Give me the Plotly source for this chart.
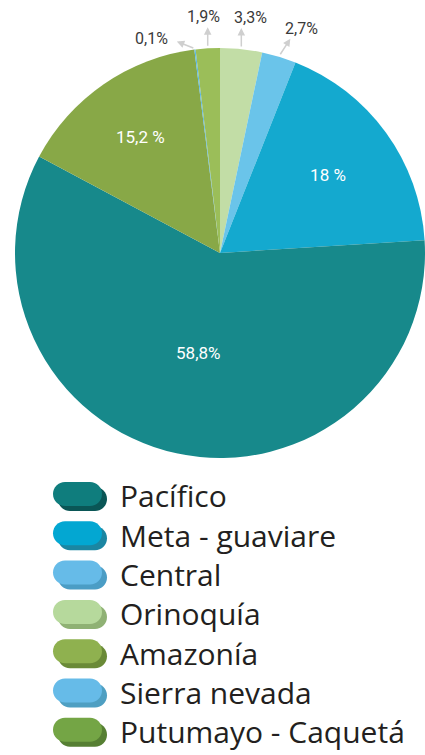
import math
import plotly.graph_objects as go

# orden de las porciones en el pastel (sentido horario desde las 12)
pie_labels = ["Orinoquía", "Central", "Meta - guaviare", "Pacífico",
              "Amazonía", "Sierra nevada", "Putumayo - Caquetá"]
pie_values = [3.3, 2.7, 18.0, 58.8, 15.2, 0.1, 1.9]
pie_text = ["3,3%", "2,7%", "18 %", "58,8%", "15,2 %", "0,1%", "1,9%"]
pie_colors = ["#c2dda6", "#6ac4ea", "#14a9cf", "#17898b",
              "#88a847", "#5ab8e6", "#9bbe59"]

# orden de la leyenda
legend_labels = ["Pacífico", "Meta - guaviare", "Central", "Orinoquía",
                 "Amazonía", "Sierra nevada", "Putumayo - Caquetá"]
legend_colors = ["#0f7d7d", "#03a7d2", "#66bbe8", "#b6d99c",
                 "#8fb14f", "#66bbe8", "#74a545"]
legend_shadow = ["#0a5656", "#1b86a2", "#4b9dc5", "#8fb174",
                 "#6a8a37", "#4e9fc2", "#567f33"]

W, H = 425, 755
CX, CY, R = 220, 253, 205  # centro y radio del pastel en px


def px(x, y):
    return x / W, 1 - y / H


fig = go.Figure()
fig.add_trace(go.Pie(
    labels=pie_labels,
    values=pie_values,
    text=pie_text,
    textinfo="text",
    textposition=["none", "none", "inside", "inside", "inside", "none", "none"],
    insidetextorientation="horizontal",
    insidetextfont=dict(family="Roboto", size=17, color="white"),
    marker=dict(colors=pie_colors, line=dict(width=0)),
    sort=False,
    direction="clockwise",
    rotation=0,
    hole=0,
    domain=dict(x=[(CX - R) / W, (CX + R) / W],
                y=[1 - (CY + R) / H, 1 - (CY - R) / H]),
))

# etiquetas externas con flechas para las porciones pequenas
offsets = {  # indice: (dx flecha, dy flecha, dx texto, dy texto)
    0: (0, -20, 9, -31),
    1: (11, -17, 22, -27),
    5: (-18, -7, -43, -10),
    6: (0, -20, -4, -31),
}
total = sum(pie_values)
cum = 0
annotations = []
for i, v in enumerate(pie_values):
    mid = (cum + v / 2) / total * 2 * math.pi
    cum += v
    if i not in offsets:
        continue
    ex = CX + (R + 1) * math.sin(mid)
    ey = CY - (R + 1) * math.cos(mid)
    dx, dy, tx, ty = offsets[i]
    ax_, ay_ = px(ex + dx, ey + dy)
    annotations.append(dict(
        x=ax_, y=ay_, xref="paper", yref="paper", text="",
        showarrow=True, ax=-dx, ay=-dy, arrowhead=2, arrowsize=1,
        arrowwidth=1.5, arrowcolor="#cfcfcf"))
    lx, ly = px(ex + tx, ey + ty)
    annotations.append(dict(
        x=lx, y=ly, xref="paper", yref="paper", text=pie_text[i],
        xanchor="center", yanchor="middle", showarrow=False,
        font=dict(family="Roboto", size=16, color="#3a3a3a")))

# leyenda dibujada a mano (marcas en forma de pastilla con sombra)
def pill(x0, x1, yc, h):
    k = 0.5523 * h
    pts = [
        ("M", [(x0 + h, yc - h)]),
        ("L", [(x1 - h, yc - h)]),
        ("C", [(x1 - h + k, yc - h), (x1, yc - k), (x1, yc)]),
        ("C", [(x1, yc + k), (x1 - h + k, yc + h), (x1 - h, yc + h)]),
        ("L", [(x0 + h, yc + h)]),
        ("C", [(x0 + h - k, yc + h), (x0, yc + k), (x0, yc)]),
        ("C", [(x0, yc - k), (x0 + h - k, yc - h), (x0 + h, yc - h)]),
    ]
    s = ""
    for cmd, ps in pts:
        s += cmd + " ".join("%.5f,%.5f" % px(a, b) for a, b in ps)
    return s + "Z"


shapes = []
for j, lab in enumerate(legend_labels):
    yc = 494 + j * 39.3
    shapes.append(dict(type="path", xref="paper", yref="paper",
                       path=pill(58, 107, yc + 5, 12),
                       fillcolor=legend_shadow[j], line=dict(width=0)))
    shapes.append(dict(type="path", xref="paper", yref="paper",
                       path=pill(53, 102, yc, 12),
                       fillcolor=legend_colors[j], line=dict(width=0)))
    tx, ty = px(118, yc + 2)
    annotations.append(dict(
        x=tx, y=ty, xref="paper", yref="paper", text=lab, showarrow=False,
        xanchor="left", yanchor="middle",
        font=dict(family="Open Sans", size=30, color="#231f20")))

fig.update_layout(
    width=W, height=H,
    margin=dict(l=0, r=0, t=0, b=0),
    paper_bgcolor="white",
    plot_bgcolor="white",
    showlegend=False,
    shapes=shapes,
    annotations=annotations,
)

# sin margen del body para que la figura ocupe la ventana completa
fig.write_html("out.html",
               config={"displayModeBar": False},
               post_script="document.body.style.margin='0';"
                           "document.body.style.overflow='hidden';")
